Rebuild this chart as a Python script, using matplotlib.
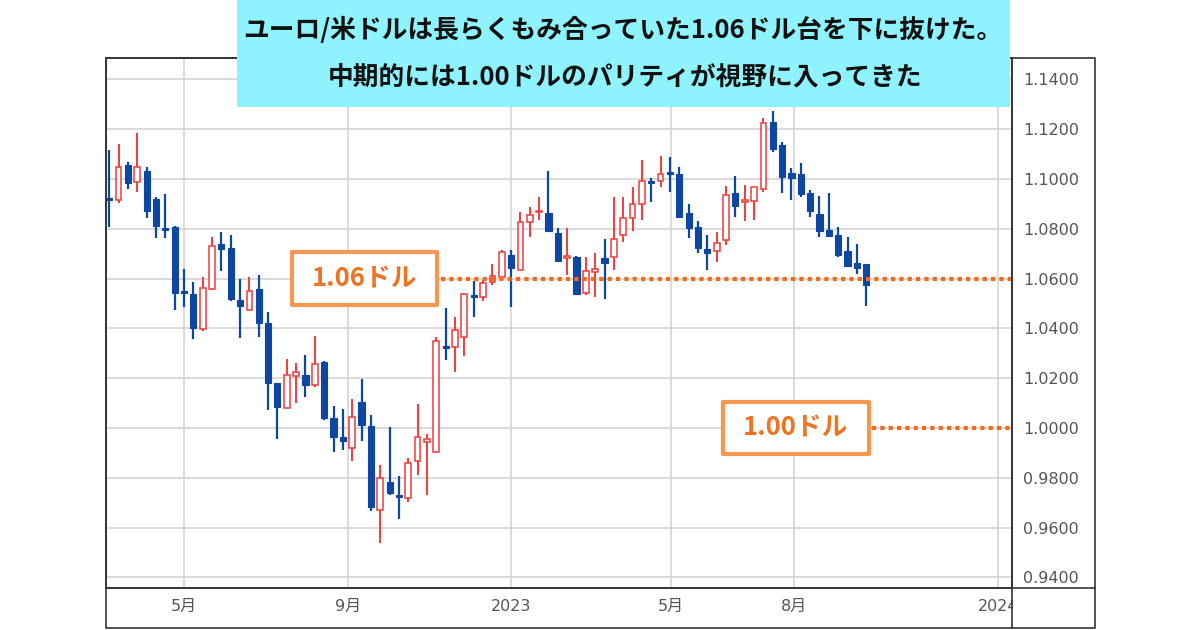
import numpy as np
import pandas as pd
import matplotlib
matplotlib.use('Agg')
import matplotlib.pyplot as plt
import matplotlib.dates as mdates
from matplotlib.patches import Rectangle
from matplotlib.lines import Line2D

plt.rcParams['font.family'] = ['Noto Sans CJK JP', 'DejaVu Sans']

# weekly EUR/USD candles
weeks = pd.date_range('2022-03-06', periods=82, freq='7D')
opens = [1.0924, 1.0916, 1.1056, 1.0988, 1.1032, 1.0920, 1.0803, 1.0807, 1.0550, 1.0538,
         1.0398, 1.0558, 1.0739, 1.0723, 1.0514, 1.0474, 1.0558, 1.0422, 1.0181, 1.0080,
         1.0209, 1.0213, 1.0173, 1.0265, 1.0040, 0.9964, 0.9920, 1.0104, 1.0008, 0.9671,
         0.9783, 0.9731, 0.9719, 0.9867, 0.9944, 0.9904, 1.0329, 1.0325, 1.0365, 1.0534,
         1.0526, 1.0586, 1.0606, 1.0695, 1.0635, 1.0827, 1.0867, 1.0863, 1.0783, 1.0683,
         1.0687, 1.0542, 1.0627, 1.0683, 1.0687, 1.0775, 1.0843, 1.0900, 1.0992, 1.0992,
         1.1028, 1.1020, 1.0863, 1.0807, 1.0719, 1.0711, 1.0755, 1.0944, 1.0908, 1.0912,
         1.0960, 1.1229, 1.1137, 1.1024, 1.1020, 1.0944, 1.0859, 1.0795, 1.0775, 1.0711,
         1.0663, 1.0659]
highs = [1.1116, 1.1141, 1.1068, 1.1185, 1.1048, 1.0928, 1.0940, 1.0811, 1.0639, 1.0586,
         1.0606, 1.0767, 1.0787, 1.0775, 1.0598, 1.0606, 1.0614, 1.0466, 1.0181, 1.0277,
         1.0261, 1.0293, 1.0369, 1.0269, 1.0088, 1.0076, 1.0116, 1.0197, 1.0052, 0.9851,
         1.0004, 0.9807, 0.9880, 1.0096, 0.9976, 1.0365, 1.0482, 1.0446, 1.0542, 1.0590,
         1.0594, 1.0659, 1.0715, 1.0715, 1.0867, 1.0888, 1.0928, 1.1032, 1.0803, 1.0803,
         1.0691, 1.0687, 1.0703, 1.0759, 1.0928, 1.0928, 1.0968, 1.1076, 1.1004, 1.1092,
         1.1088, 1.1048, 1.0900, 1.0831, 1.0775, 1.0787, 1.0972, 1.1012, 1.0976, 1.0968,
         1.1245, 1.1273, 1.1149, 1.1044, 1.1064, 1.0956, 1.0932, 1.0944, 1.0807, 1.0767,
         1.0739, 1.0659]
lows = [1.0807, 1.0904, 1.0960, 1.0948, 1.0843, 1.0763, 1.0763, 1.0474, 1.0486, 1.0357,
        1.0390, 1.0554, 1.0631, 1.0510, 1.0361, 1.0474, 1.0365, 1.0072, 0.9956, 1.0080,
        1.0100, 1.0124, 1.0165, 1.0033, 0.9904, 0.9912, 0.9867, 0.9948, 0.9667, 0.9538,
        0.9731, 0.9635, 0.9703, 0.9811, 0.9731, 0.9904, 1.0273, 1.0225, 1.0289, 1.0446,
        1.0510, 1.0574, 1.0606, 1.0486, 1.0635, 1.0767, 1.0835, 1.0791, 1.0667, 1.0614,
        1.0534, 1.0534, 1.0526, 1.0518, 1.0635, 1.0747, 1.0791, 1.0835, 1.0908, 1.0968,
        1.0948, 1.0847, 1.0763, 1.0703, 1.0635, 1.0667, 1.0735, 1.0847, 1.0831, 1.0835,
        1.0948, 1.1108, 1.0944, 1.0916, 1.0928, 1.0847, 1.0767, 1.0771, 1.0687, 1.0651,
        1.0618, 1.0490]
closes = [1.0916, 1.1048, 1.0984, 1.1048, 1.0871, 1.0811, 1.0795, 1.0542, 1.0542, 1.0402,
          1.0562, 1.0731, 1.0719, 1.0518, 1.0490, 1.0550, 1.0422, 1.0181, 1.0084, 1.0213,
          1.0225, 1.0173, 1.0257, 1.0040, 0.9964, 0.9948, 1.0044, 1.0012, 0.9683, 0.9799,
          0.9739, 0.9723, 0.9859, 0.9964, 0.9956, 1.0349, 1.0321, 1.0394, 1.0538, 1.0526,
          1.0582, 1.0610, 1.0707, 1.0643, 1.0827, 1.0855, 1.0871, 1.0791, 1.0671, 1.0691,
          1.0538, 1.0631, 1.0639, 1.0663, 1.0759, 1.0843, 1.0900, 1.0992, 1.0984, 1.1020,
          1.1020, 1.0847, 1.0803, 1.0723, 1.0703, 1.0743, 1.0936, 1.0892, 1.0916, 1.0968,
          1.1225, 1.1120, 1.1008, 1.1004, 1.0940, 1.0871, 1.0791, 1.0771, 1.0695, 1.0651,
          1.0643, 1.0574]

levels = [1.06, 1.00]
level_labels = ['1.06ドル', '1.00ドル']
tick_dates = pd.to_datetime(['2022-05-01', '2022-09-01', '2023-01-01',
                             '2023-05-01', '2023-08-01', '2024-01-01'])
tick_labels = ['5月', '9月', '2023', '5月', '8月', '2024']
price_ticks = [0.94, 0.96, 0.98, 1.00, 1.02, 1.04, 1.06, 1.08, 1.10, 1.12, 1.14]
title_lines = ['ユーロ/米ドルは長らくもみ合っていた1.06ドル台を下に抜けた。',
               '中期的には1.00ドルのパリティが視野に入ってきた']

W, H = 1200, 630
BLUE = '#0d47a1'
RED = '#f23b3b'
ORANGE_LINE = '#f06a1a'
ORANGE_BOX = '#f8974f'
ORANGE_TEXT = '#f07322'


def fx(px):
    return px / W


def fy(py):
    return 1 - py / H


fig = plt.figure(figsize=(W / 100, H / 100), dpi=100)
ax = fig.add_axes([fx(106), fy(588), fx(1012) - fx(106), fy(58) - fy(588)])

x = mdates.date2num(weeks)
o = np.array(opens)
h = np.array(highs)
l = np.array(lows)
c = np.array(closes)
up = c >= o

ax.vlines(x[up], l[up], h[up], color=RED, lw=1.4, zorder=2)
ax.vlines(x[~up], l[~up], h[~up], color=BLUE, lw=1.6, zorder=2)
body = np.maximum(np.abs(c - o), 0.0004)
ax.bar(x[up], body[up], bottom=np.minimum(o, c)[up], width=4.3,
       facecolor='white', edgecolor=RED, lw=1.1, zorder=3)
ax.bar(x[~up], body[~up], bottom=np.minimum(o, c)[~up], width=4.6,
       facecolor=BLUE, edgecolor=BLUE, lw=0.8, zorder=3)

may1 = mdates.date2num(pd.Timestamp('2022-05-01'))
ax.set_xlim(may1 - 58.4, may1 + 620.2)
ax.set_ylim(0.93574, 1.14859)

ax.set_xticks(mdates.date2num(tick_dates))
ax.set_xticklabels(tick_labels, family=['DejaVu Sans', 'Noto Sans CJK JP'])
ax.set_yticks(price_ticks)
ax.set_yticklabels(['%.4f' % v for v in price_ticks], family='DejaVu Sans')
ax.yaxis.tick_right()
ax.tick_params(axis='both', length=0, labelsize=11.5, labelcolor='#555555')
ax.tick_params(axis='y', pad=8)
ax.tick_params(axis='x', pad=8)
ax.grid(True, color='#d4d4d4', lw=1.2)
ax.set_axisbelow(True)
for s in ax.spines.values():
    s.set_color('#333333')
    s.set_linewidth(1.2)

# level markers: dotted line plus boxed label
box_x = [(0.2053, 0.3653), (0.681, 0.842)]
for lev, lab, (x0, x1) in zip(levels, level_labels, box_x):
    tr = ax.get_yaxis_transform()
    ax.plot([x1 + 0.004, 1.0], [lev, lev], transform=tr, color=ORANGE_LINE,
            lw=3, dashes=(1, 1), solid_capstyle='butt', dash_capstyle='butt', zorder=4)
    ax.add_patch(Rectangle((x0, lev - 0.0105), x1 - x0, 0.021, transform=tr,
                           facecolor='white', edgecolor=ORANGE_BOX, lw=3,
                           joinstyle='round', zorder=5))
    ax.text((x0 + x1) / 2, lev, lab, transform=tr, ha='center', va='center',
            fontsize=18.5, fontweight='bold', color=ORANGE_TEXT, zorder=6)

# hide the clipped part of the last date label and draw the outer frame
fig.add_artist(Rectangle((fx(1013), fy(627)), fx(1094) - fx(1013), fy(589) - fy(627),
                         transform=fig.transFigure, facecolor='white', edgecolor='none', zorder=2))
frame = dict(transform=fig.transFigure, color='#333333', lw=1.2, zorder=3)
fig.add_artist(Line2D([fx(106), fx(1095), fx(1095), fx(106), fx(106)],
                      [fy(58), fy(58), fy(628), fy(628), fy(58)], **frame))
fig.add_artist(Line2D([fx(1012), fx(1012)], [fy(58), fy(628)], **frame))
fig.add_artist(Line2D([fx(106), fx(1095)], [fy(588), fy(588)], **frame))

# title banner
fig.add_artist(Rectangle((fx(237), fy(107)), fx(1010) - fx(237), fy(0) - fy(107),
                         transform=fig.transFigure, facecolor='#8ef3fd', edgecolor='none', zorder=4))
fig.text(fx(623), fy(30), title_lines[0], ha='center', va='center', fontsize=18.5,
         fontweight='bold', color='#111111', zorder=5)
fig.text(fx(625), fy(77), title_lines[1], ha='center', va='center', fontsize=18.5,
         fontweight='bold', color='#111111', zorder=5)

fig.savefig('out.png', dpi=100, facecolor='white')
